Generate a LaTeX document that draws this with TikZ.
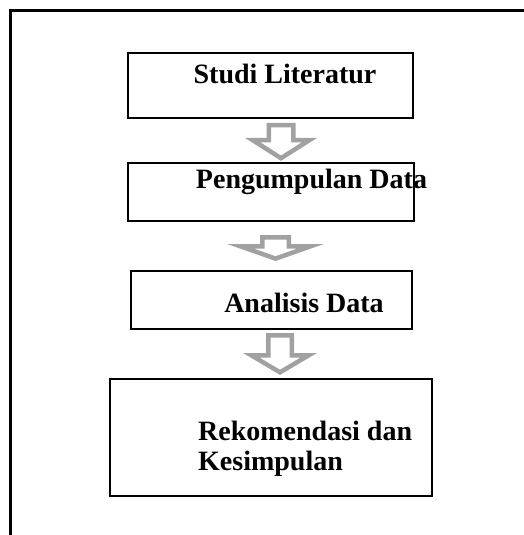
\documentclass[tikz,border=0pt]{standalone}
\usepackage{fontspec}
\setmainfont{Liberation Serif}
\usetikzlibrary{calc}
\tikzset{
x=1pt, y=-1pt, % one unit per pixel, y grows downward
stage/.style={draw, rectangle, line width=2pt}, % the box of each step
stagetext/.style={font=\bfseries\fontsize{28}{30}\selectfont, inner sep=0pt}, % the name of each step
hollow/.style={draw=black!37, fill=white, line width=4.5pt, line join=miter}, % the gray block arrows
frame/.style={line width=3pt}, % the border of the page
}
% block arrow: top, tip, half shaft, half head, head length
\newcommand{\hollowarrow}[5]{%
  \draw[hollow] let \p1=(#1), \p2=(#2) in
    (\x1-#3pt,\y1) -- (\x1+#3pt,\y1) -- (\x1+#3pt,\y2+#5pt) -- (\x1+#4pt,\y2+#5pt)
    -- (\x2,\y2) -- (\x1-#4pt,\y2+#5pt) -- (\x1-#3pt,\y2+#5pt) -- cycle;
}
\begin{document}
\begin{tikzpicture}
    \useasboundingbox (0,0) rectangle (524,535);
    \draw[frame] (524,10.5) -- (10.5,10.5) -- (10.5,535);

    \node[stage, minimum width=285pt, minimum height=65pt] (studi) at (270.5,85.5) {};
    \node[stage, minimum width=286pt, minimum height=58pt] (pengumpulan) at (271,192) {};
    \node[stage, minimum width=281pt, minimum height=58pt] (analisis) at (271.5,300) {};
    \node[stage, minimum width=322pt, minimum height=117pt] (rekomendasi) at (271,437.5) {};

    \node[stagetext, anchor=base] (tstudi) at (285,83) {Studi Literatur};
    \node[stagetext, anchor=base] (tpengumpulan) at (311.5,188) {Pengumpulan Data};
    \node[stagetext, anchor=base] (tanalisis) at (304,312) {Analisis Data};
    \node[stagetext, anchor=base west, align=left] (trekomendasi) at (198,470) {Rekomendasi dan\\Kesimpulan};

    \coordinate (a1top) at (281,125);
    \coordinate (a1tip) at (281,158.2);
    \coordinate (a2top) at (275.5,237.25);
    \coordinate (a2tip) at (275.5,258.6);
    \coordinate (a3top) at (280,335.25);
    \coordinate (a3tip) at (280,372.35);

    \hollowarrow{a1top}{a1tip}{12.25}{28.25}{18}
    \hollowarrow{a2top}{a2tip}{13.25}{35.25}{12.35}
    \hollowarrow{a3top}{a3tip}{11.75}{28.75}{17.1}
\end{tikzpicture}
\end{document}
